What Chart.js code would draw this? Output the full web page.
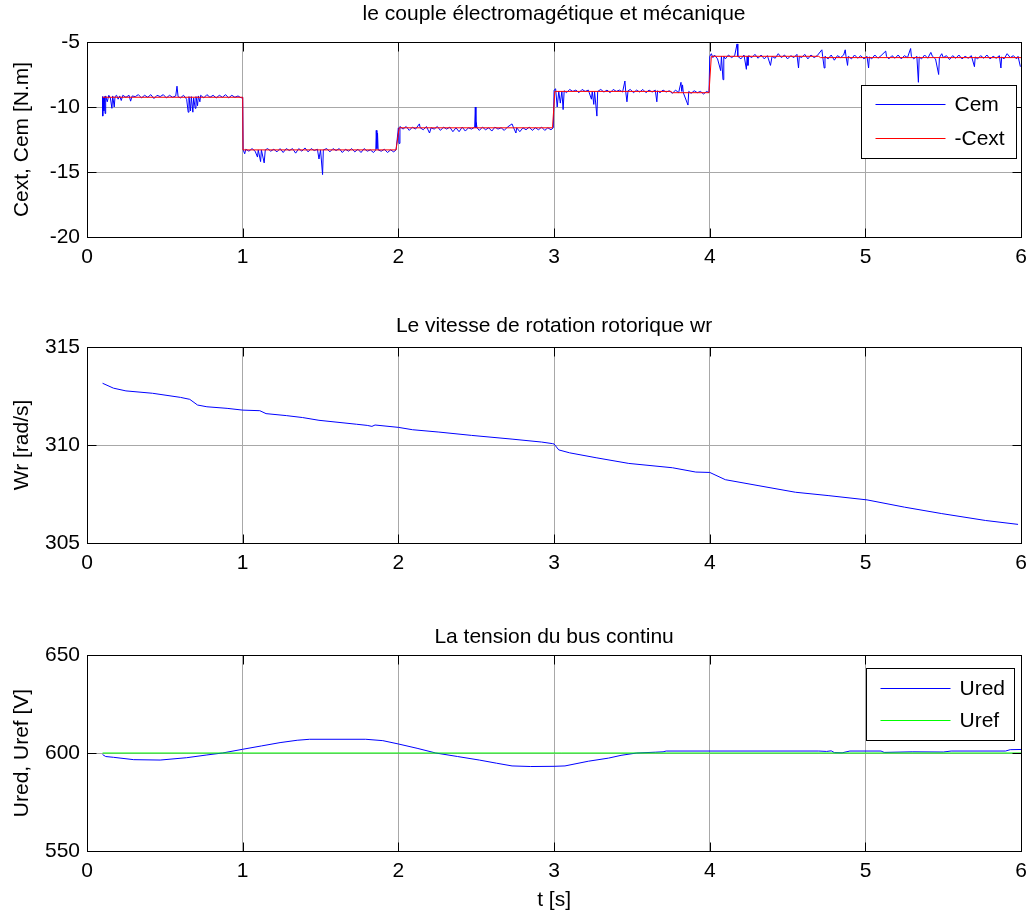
<!DOCTYPE html>
<html>
<head>
<meta charset="utf-8">
<script src="https://cdn.jsdelivr.net/npm/chart.js@4/dist/chart.umd.min.js"></script>
<style>
  body { margin: 0; background: #fff; }
  #wrap { position: relative; width: 1035px; height: 917px; }
  #wrap canvas { position: absolute; left: 0; }
</style>
</head>
<body>
<div id="wrap">
  <canvas id="c1" width="1035" height="310" style="top:0px"></canvas>
  <canvas id="c2" width="1035" height="310" style="top:310px"></canvas>
  <canvas id="c3" width="1035" height="297" style="top:620px"></canvas>
</div>
<script>
// values, [t, value]
const cemData = [
  [0.100,-9.2],[0.101,-10.7],[0.104,-9.3],[0.108,-10.3],[0.112,-9.2],[0.116,-10.5],[0.12,-9.15],[0.13,-9.6],[0.14,-9.1],[0.15,-9.3],
  [0.16,-10.1],[0.165,-9.15],[0.175,-10.0],[0.18,-9.2],[0.19,-9.1],[0.2,-9.4],[0.21,-9.15],[0.22,-9.5],[0.23,-9.1],[0.25,-9.25],
  [0.27,-9.1],[0.28,-9.55],[0.29,-9.15],[0.31,-9.2],[0.33,-9.05],[0.35,-9.3],[0.37,-9.1],[0.39,-9.25],[0.41,-9.05],[0.43,-9.35],
  [0.45,-9.1],[0.47,-9.2],[0.49,-9.05],[0.51,-9.3],[0.53,-9.1],[0.55,-9.25],[0.57,-9.15],[0.578,-8.4],[0.585,-9.2],[0.6,-9.3],
  [0.62,-9.1],[0.64,-9.4],[0.65,-10.4],[0.655,-9.2],[0.665,-10.3],[0.67,-9.2],[0.68,-10.4],[0.685,-9.3],[0.695,-10.1],[0.7,-9.2],
  [0.71,-9.9],[0.715,-9.15],[0.725,-9.6],[0.73,-9.1],[0.75,-9.3],[0.77,-9.05],[0.79,-9.25],[0.81,-9.1],[0.83,-9.3],[0.85,-9.1],
  [0.87,-9.25],[0.89,-9.05],[0.91,-9.3],[0.93,-9.1],[0.95,-9.25],[0.97,-9.15],[0.99,-9.3],[1.0,-9.25],
  [1.003,-13.3],[1.013,-13.6],[1.02,-13.25],[1.04,-13.4],[1.06,-13.2],[1.08,-13.4],[1.095,-13.85],[1.1,-13.3],[1.115,-14.2],[1.12,-13.3],
  [1.138,-14.3],[1.145,-13.3],[1.16,-13.2],[1.18,-13.4],[1.2,-13.25],[1.22,-13.45],[1.24,-13.2],[1.26,-13.5],[1.28,-13.2],[1.3,-13.35],
  [1.32,-13.2],[1.34,-13.55],[1.36,-13.2],[1.38,-13.4],[1.4,-13.15],[1.42,-13.45],[1.44,-13.2],[1.46,-13.35],[1.48,-13.25],[1.49,-14.0],
  [1.5,-13.3],[1.513,-15.2],[1.518,-13.3],[1.54,-13.2],[1.56,-13.45],[1.58,-13.2],[1.6,-13.35],[1.62,-13.2],[1.64,-13.5],[1.66,-13.25],
  [1.68,-13.4],[1.7,-13.2],[1.72,-13.45],[1.74,-13.25],[1.76,-13.5],[1.78,-13.2],[1.8,-13.4],[1.82,-13.3],[1.84,-13.5],[1.855,-13.3],
  [1.858,-11.8],[1.862,-13.2],[1.866,-12.0],[1.87,-13.3],[1.89,-13.4],[1.91,-13.25],[1.93,-13.5],[1.95,-13.3],[1.97,-13.45],[1.985,-13.3],
  [2.0,-11.6],[2.004,-12.8],[2.01,-11.5],[2.03,-11.7],[2.05,-11.5],[2.07,-11.8],[2.09,-11.55],[2.11,-11.7],[2.135,-11.3],[2.14,-11.6],
  [2.16,-11.75],[2.18,-11.5],[2.2,-12.0],[2.21,-11.6],[2.23,-11.7],[2.25,-11.5],[2.27,-11.8],[2.29,-11.55],[2.31,-11.7],[2.33,-11.55],
  [2.35,-11.9],[2.37,-11.6],[2.39,-11.9],[2.41,-11.55],[2.43,-11.85],[2.45,-11.6],[2.47,-11.7],[2.49,-11.55],[2.494,-10.0],[2.498,-11.6],
  [2.5,-11.2],[2.505,-11.6],[2.52,-11.8],[2.54,-11.55],[2.56,-11.75],[2.58,-11.6],[2.6,-11.85],[2.62,-11.55],[2.64,-11.7],[2.66,-11.6],
  [2.68,-11.8],[2.7,-11.55],[2.73,-11.3],[2.74,-11.6],[2.755,-12.0],[2.76,-11.6],[2.78,-11.9],[2.8,-11.6],[2.82,-11.75],[2.84,-11.55],
  [2.86,-11.8],[2.88,-11.6],[2.9,-11.75],[2.92,-11.55],[2.94,-11.8],[2.96,-11.6],[2.98,-11.75],[2.995,-11.6],
  [3.0,-8.7],[3.01,-8.6],[3.02,-10.0],[3.03,-8.8],[3.04,-9.7],[3.05,-8.8],[3.058,-10.2],[3.065,-8.75],[3.08,-8.9],[3.1,-8.65],
  [3.12,-8.8],[3.14,-8.7],[3.16,-8.9],[3.18,-8.65],[3.2,-8.8],[3.22,-8.7],[3.24,-9.4],[3.245,-8.8],[3.255,-9.8],[3.26,-8.8],
  [3.275,-10.7],[3.28,-8.8],[3.3,-8.65],[3.32,-8.85],[3.34,-8.7],[3.36,-8.9],[3.38,-8.65],[3.4,-8.8],[3.42,-8.7],[3.44,-8.85],
  [3.455,-8.0],[3.46,-8.8],[3.468,-9.6],[3.475,-8.75],[3.49,-8.65],[3.51,-8.9],[3.53,-8.7],[3.55,-8.85],[3.57,-8.65],[3.59,-8.9],
  [3.61,-8.7],[3.63,-8.85],[3.65,-8.7],[3.66,-9.6],[3.665,-8.75],[3.68,-8.9],[3.7,-8.7],[3.72,-8.85],[3.74,-8.75],[3.76,-8.95],
  [3.78,-8.7],[3.8,-8.9],[3.815,-8.1],[3.82,-8.8],[3.825,-8.3],[3.83,-8.9],[3.86,-9.85],[3.865,-8.8],[3.88,-8.95],[3.9,-8.75],
  [3.92,-8.9],[3.94,-8.8],[3.96,-9.0],[3.98,-8.8],[3.995,-8.9],
  [4.0,-6.1],[4.01,-5.9],[4.02,-6.2],[4.03,-6.0],[4.05,-6.3],[4.07,-7.2],[4.075,-6.1],[4.085,-7.9],[4.09,-6.1],[4.1,-6.3],
  [4.12,-6.0],[4.14,-6.2],[4.16,-6.05],[4.175,-5.15],[4.18,-6.1],[4.2,-6.3],[4.22,-6.0],[4.235,-7.1],[4.24,-6.1],[4.245,-6.8],
  [4.25,-6.05],[4.27,-6.2],[4.29,-5.95],[4.31,-6.25],[4.33,-6.0],[4.35,-6.3],[4.37,-6.05],[4.39,-6.8],[4.4,-6.1],[4.42,-6.25],
  [4.44,-5.9],[4.46,-6.2],[4.48,-6.0],[4.5,-6.3],[4.52,-6.05],[4.54,-6.2],[4.56,-5.95],[4.57,-7.0],[4.575,-6.1],[4.59,-6.2],
  [4.61,-5.95],[4.63,-6.3],[4.65,-6.0],[4.67,-6.2],[4.69,-6.05],[4.72,-5.6],[4.725,-6.1],[4.735,-7.0],[4.74,-6.1],[4.76,-6.3],
  [4.78,-6.0],[4.8,-6.4],[4.82,-6.05],[4.84,-6.2],[4.86,-6.0],[4.87,-5.6],[4.875,-6.1],[4.885,-6.8],[4.89,-6.1],[4.91,-6.3],
  [4.93,-6.0],[4.95,-6.25],[4.97,-6.05],[4.99,-6.3],[5.01,-6.1],[5.02,-7.0],[5.025,-6.15],[5.04,-6.3],[5.06,-6.0],[5.08,-6.25],
  [5.1,-6.05],[5.13,-5.7],[5.135,-6.1],[5.15,-6.3],[5.17,-6.05],[5.19,-6.25],[5.21,-6.0],[5.23,-6.3],[5.25,-6.05],[5.27,-6.2],
  [5.29,-5.5],[5.295,-6.1],[5.31,-6.3],[5.33,-6.1],[5.34,-8.1],[5.345,-6.15],[5.36,-6.3],[5.38,-6.0],[5.4,-6.25],[5.42,-5.8],
  [5.43,-6.1],[5.45,-6.3],[5.47,-7.5],[5.475,-6.2],[5.49,-5.9],[5.5,-6.2],[5.52,-6.05],[5.54,-6.35],[5.56,-6.05],[5.58,-6.25],
  [5.6,-6.0],[5.62,-6.3],[5.64,-6.1],[5.66,-6.25],[5.68,-6.05],[5.7,-6.9],[5.705,-6.15],[5.72,-6.3],[5.74,-6.05],[5.76,-6.25],
  [5.78,-6.0],[5.8,-6.3],[5.82,-6.1],[5.84,-6.25],[5.86,-6.05],[5.87,-7.0],[5.875,-6.15],[5.89,-6.3],[5.91,-5.9],[5.93,-6.2],
  [5.95,-6.05],[5.97,-6.3],[5.98,-6.1],[5.995,-6.9]
];
const cextData = [
  [0.1,-9.25],[1.0,-9.25],[1.002,-13.3],[1.985,-13.3],[2.005,-11.6],[2.99,-11.6],[3.005,-8.8],
  [3.75,-8.8],[3.76,-8.9],[3.995,-8.9],[4.01,-6.1],[4.7,-6.1],[4.71,-6.2],[6.0,-6.2]
];
const wrData = [
  [0.1,313.15],[0.17,312.9],[0.25,312.76],[0.42,312.64],[0.6,312.43],[0.66,312.33],[0.71,312.04],[0.77,311.95],
  [0.9,311.87],[1.0,311.78],[1.11,311.75],[1.15,311.6],[1.28,311.5],[1.385,311.4],[1.49,311.26],[1.73,311.06],
  [1.8,311.0],[1.83,310.95],[1.85,311.02],[2.0,310.9],[2.09,310.78],[2.26,310.66],[2.47,310.49],[2.73,310.3],
  [2.92,310.15],[2.99,310.07],[3.0,310.05],[3.03,309.75],[3.1,309.6],[3.27,309.35],[3.48,309.06],[3.76,308.84],
  [3.91,308.62],[4.0,308.6],[4.1,308.23],[4.31,307.93],[4.55,307.59],[4.76,307.42],[5.01,307.2],[5.25,306.83],
  [5.49,306.5],[5.77,306.15],[5.98,305.95]
];
const uredData = [
  [0.1,599.2],[0.12,598.2],[0.17,597.8],[0.3,596.6],[0.47,596.4],[0.64,597.6],[0.77,599.0],[0.87,600.0],
  [1.0,601.9],[1.12,603.6],[1.24,605.3],[1.35,606.5],[1.43,607.0],[1.79,607.0],[1.9,606.3],[2.0,604.6],
  [2.12,602.4],[2.24,600.0],[2.38,598.2],[2.52,596.4],[2.63,594.8],[2.73,593.4],[2.85,593.1],[3.0,593.2],
  [3.07,593.4],[3.22,595.8],[3.35,597.4],[3.43,598.8],[3.53,600.0],[3.65,600.4],[3.7,600.6],[3.72,601.0],
  [4.7,601.0],[4.75,600.8],[4.78,601.1],[4.8,600.2],[4.85,600.1],[4.9,601.0],[5.1,601.0],[5.12,600.3],
  [5.3,600.6],[5.5,600.5],[5.55,601.0],[5.9,601.0],[5.93,601.7],[6.0,601.8]
];
const urefData = [[0.1,600],[6.0,600]];

const FONT = "'Liberation Sans', Arial, sans-serif";
Chart.defaults.font.family = FONT;
Chart.defaults.font.size = 21;
Chart.defaults.color = '#000';

// MATLAB-like box, inward ticks and legend inside the axes
const matlabFrame = {
  id: 'matlabFrame',
  afterDatasetsDraw(chart, args, opts) {
    const { ctx, chartArea: a, scales } = chart;
    const L = Math.round(a.left) + 0.5, R = Math.round(a.right) + 0.5;
    const T = Math.round(a.top) + 0.5, B = Math.round(a.bottom) + 0.5;
    ctx.save();
    ctx.strokeStyle = '#000';
    ctx.lineWidth = 1;
    ctx.beginPath();
    scales.x.ticks.forEach(t => {
      const px = Math.round(scales.x.getPixelForValue(t.value)) + 0.5;
      if (px <= L + 1 || px >= R - 1) return;
      ctx.moveTo(px, B); ctx.lineTo(px, B - 9);
      ctx.moveTo(px, T); ctx.lineTo(px, T + 9);
    });
    scales.y.ticks.forEach(t => {
      const py = Math.round(scales.y.getPixelForValue(t.value)) + 0.5;
      if (py <= T + 1 || py >= B - 1) return;
      ctx.moveTo(L, py); ctx.lineTo(L + 9, py);
      ctx.moveTo(R, py); ctx.lineTo(R - 9, py);
    });
    ctx.stroke();
    ctx.strokeRect(L, T, R - L, B - T);

    if (opts.legend) {
      const lg = opts.legend;
      const x0 = Math.round(a.right - lg.right - lg.width) + 0.5;
      const y0 = Math.round(a.top + lg.top) + 0.5;
      ctx.fillStyle = '#fff';
      ctx.fillRect(x0, y0, lg.width, lg.height);
      ctx.strokeRect(x0, y0, lg.width, lg.height);
      ctx.font = '21px ' + FONT;
      ctx.textBaseline = 'middle';
      ctx.textAlign = 'left';
      chart.data.datasets.forEach((ds, i) => {
        const yy = Math.round(y0 + lg.rows[i]) + 0.5;
        ctx.strokeStyle = ds.borderColor;
        ctx.beginPath();
        ctx.moveTo(x0 + 14, yy); ctx.lineTo(x0 + 84, yy);
        ctx.stroke();
        ctx.fillStyle = '#000';
        ctx.fillText(ds.label, x0 + 93, yy + 1);
      });
    }
    ctx.restore();
  }
};

function makeChart(id, cfg) {
  return new Chart(document.getElementById(id), {
    type: 'line',
    data: { datasets: cfg.datasets },
    options: {
      responsive: false,
      animation: false,
      events: [],
      layout: { padding: { left: 0, right: 13, top: 0, bottom: 0 } },
      elements: { point: { radius: 0 }, line: { borderWidth: 1, tension: 0 } },
      plugins: {
        legend: { display: false },
        tooltip: { enabled: false },
        title: {
          display: true, text: cfg.title, fullSize: false,
          font: { size: 21, weight: 'normal' }, color: '#000',
          padding: cfg.titlePad
        },
        matlabFrame: { legend: cfg.legend }
      },
      scales: {
        x: {
          type: 'linear', min: 0, max: 6,
          ticks: { stepSize: 1, padding: 8, maxRotation: 0 },
          grid: { color: '#a8a8a8', drawTicks: false },
          border: { display: false },
          title: { display: !!cfg.xTitle, text: cfg.xTitle || '', padding: { top: 0, bottom: 4.4 } },
          afterFit: s => { s.height = cfg.xHeight; }
        },
        y: {
          type: 'linear', min: cfg.yMin, max: cfg.yMax,
          ticks: { stepSize: cfg.yStep, padding: 7 },
          grid: { color: '#a8a8a8', drawTicks: false },
          border: { display: false },
          title: { display: true, text: cfg.yTitle, padding: { top: 9.4, bottom: 0 } },
          afterFit: s => { s.width = 87; }
        }
      }
    },
    plugins: [matlabFrame]
  });
}

makeChart('c1', {
  title: 'le couple électromagétique et mécanique',
  titlePad: { top: 1.4, bottom: 15.4 },
  xHeight: 73,
  yMin: -20, yMax: -5, yStep: 5,
  yTitle: 'Cext, Cem [N.m]',
  legend: { right: 5, top: 43, width: 155, height: 73, rows: [18.3, 52.3] },
  datasets: [
    { label: 'Cem', data: cemData, borderColor: '#0000ff', order: 1 },
    { label: '-Cext', data: cextData, borderColor: '#ff0000', order: 0 }
  ]
});

makeChart('c2', {
  title: 'Le vitesse de rotation rotorique wr',
  titlePad: { top: 3.4, bottom: 8.4 },
  xHeight: 77,
  yMin: 305, yMax: 315, yStep: 5,
  yTitle: 'Wr [rad/s]',
  datasets: [
    { label: 'Wr', data: wrData, borderColor: '#0000ff' }
  ]
});

makeChart('c3', {
  title: 'La tension du bus continu',
  titlePad: { top: 4.4, bottom: 5.4 },
  xHeight: 66,
  xTitle: 't [s]',
  yMin: 550, yMax: 650, yStep: 50,
  yTitle: 'Ured, Uref [V]',
  legend: { right: 7, top: 12.7, width: 148, height: 72, rows: [19, 51.6] },
  datasets: [
    { label: 'Ured', data: uredData, borderColor: '#0000ff', order: 1 },
    { label: 'Uref', data: urefData, borderColor: '#00ff00', order: 0 }
  ]
});
</script>
</body>
</html>
